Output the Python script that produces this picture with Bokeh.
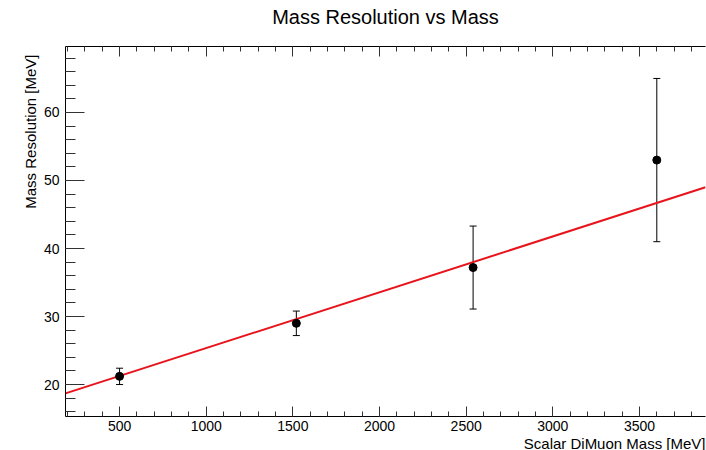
from bokeh.plotting import figure
from bokeh.models import (LinearAxis, Range1d, Whisker, ColumnDataSource, Title,
                          SingleIntervalTicker, TeeHead)
from bokeh.embed import file_html
from bokeh.resources import INLINE

# ---- data ----
mass = [500, 1520, 2540, 3600]
resolution = [21.2, 29.0, 37.2, 53.0]
res_err = [1.2, 1.8, 6.1, 12.0]
fit_mass = [188, 3881]
fit_res = [18.7, 49.0]
x_label = "Scalar DiMuon Mass [MeV]"
y_label = "Mass Resolution [MeV]"
title = "Mass Resolution vs Mass"

FONT = "Liberation Sans"

src = ColumnDataSource(dict(
    x=mass, y=resolution,
    lo=[v - e for v, e in zip(resolution, res_err)],
    hi=[v + e for v, e in zip(resolution, res_err)],
))

p = figure(width=706, height=450, output_backend="svg", toolbar_location=None,
           x_range=Range1d(188, 3881), y_range=Range1d(15.3, 69.7),
           x_axis_location=None, y_axis_location=None,
           min_border_left=65, min_border_right=1, min_border_top=46, min_border_bottom=34)
p.grid.visible = False
p.outline_line_color = None
p.background_fill_color = "white"
p.border_fill_color = "white"


def style_axis(ax, major_in, minor_in, label_size="14px", standoff=5):
    ax.axis_line_color = "black"
    ax.axis_line_width = 1
    ax.major_tick_in = major_in
    ax.major_tick_out = 0
    ax.minor_tick_in = minor_in
    ax.minor_tick_out = 0
    ax.major_tick_line_color = "#333333"
    ax.minor_tick_line_color = "#333333"
    ax.major_label_text_font = FONT
    ax.major_label_text_font_size = label_size
    ax.major_label_text_color = "black"
    ax.major_label_standoff = standoff
    ax.axis_label_text_font = FONT
    ax.axis_label_text_font_style = "normal"
    ax.axis_label_text_color = "black"


xaxis = LinearAxis(ticker=SingleIntervalTicker(interval=500, num_minor_ticks=5))
style_axis(xaxis, 10, 5, standoff=4)
p.add_layout(xaxis, "below")

yaxis = LinearAxis(ticker=SingleIntervalTicker(interval=10, num_minor_ticks=5))
style_axis(yaxis, 19, 10, standoff=6)
p.add_layout(yaxis, "left")

topaxis = LinearAxis(ticker=SingleIntervalTicker(interval=500, num_minor_ticks=5))
style_axis(topaxis, 10, 5, label_size="0px", standoff=0)
topaxis.major_label_text_color = None
topaxis.axis_label = title
topaxis.axis_label_text_font_size = "20px"
topaxis.axis_label_standoff = 19
p.add_layout(topaxis, "above")

xt = Title(text=x_label, align="right", text_font=FONT, text_font_size="15px",
           text_font_style="normal", text_color="black", standoff=-2)
p.add_layout(xt, "below")

yt = Title(text=y_label, align="right", vertical_align="top", text_font=FONT,
           text_font_size="15px", text_font_style="normal", text_color="black",
           standoff=0, offset=8)
p.add_layout(yt, "left")

# fit line
p.line(fit_mass, fit_res, line_color="#e8141c", line_width=2)

# error bars
w = Whisker(source=src, base="x", lower="lo", upper="hi", dimension="height",
            line_color="black", line_width=1,
            upper_head=TeeHead(size=7, line_color="black", line_width=1),
            lower_head=TeeHead(size=7, line_color="black", line_width=1))
p.add_layout(w)

p.scatter("x", "y", source=src, size=8, fill_color="black", line_color="black")

open("out.html", "w").write(file_html(p, INLINE))
